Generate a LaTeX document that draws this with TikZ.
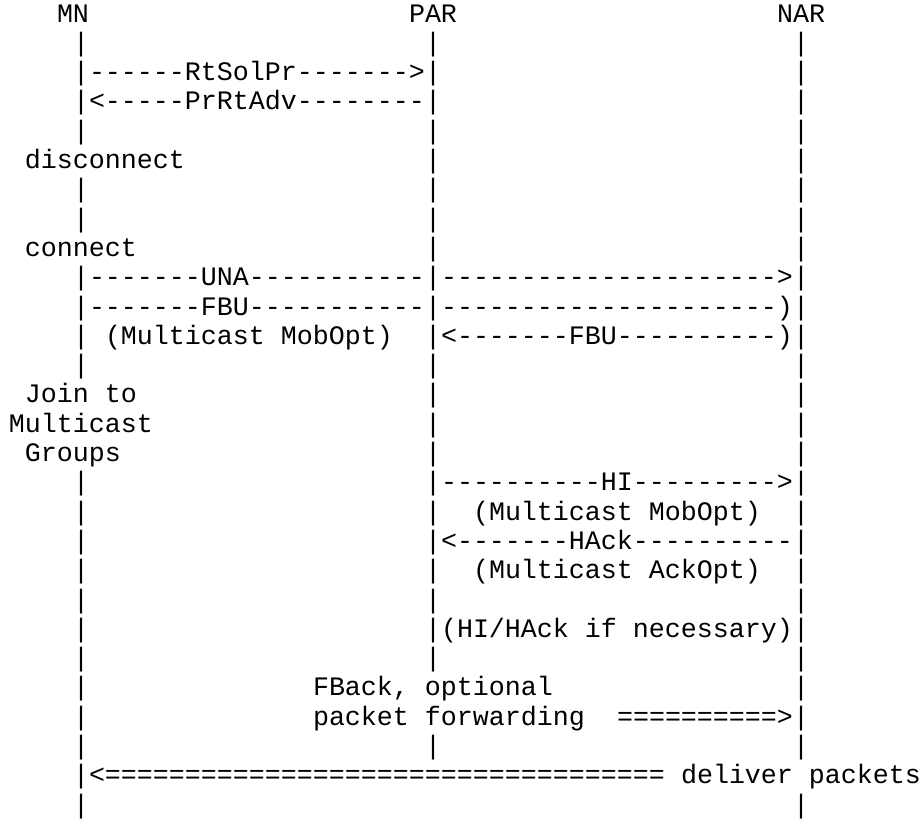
\documentclass[tikz,border=0pt]{standalone}
\usepackage{fontspec}
\setmonofont{Liberation Mono}
\usepackage{tikz}
\tikzstyle{asciitext}=[anchor=base west, inner sep=0pt, outer sep=0pt, font=\ttfamily\fontsize{13.33pt}{14.65pt}\selectfont]
\newcommand{\asciinode}[3]{
	\node[asciitext] (#1) at (#2) {#3};}

\begin{document}
\begin{tikzpicture}[x=8pt, y=-14.65pt]
	\useasboundingbox[fill=white] (-4.5pt,-3.65pt) rectangle (457.5pt,-414.15pt);

	% hosts
	\asciinode{mn}{3,1}{MN}
	\asciinode{par}{25,1}{PAR}
	\asciinode{nar}{48,1}{NAR}

	% lifelines
	\foreach \l in {2,3,4,5,7,8,10,11,12,13,17,18,19,20,21,22,23,24,25,26,27,28}
		\asciinode{mn\l}{4,\l}{|};
	\foreach \l in {2,...,23,26}
		\asciinode{par\l}{26,\l}{|};
	\foreach \l in {2,...,26,28}
		\asciinode{nar\l}{49,\l}{|};

	% MN <-> PAR
	\asciinode{rtsolpr}{5,3}{------RtSolPr------->}
	\asciinode{prrtadv}{5,4}{<-----PrRtAdv--------}
	\asciinode{disconnect}{1,6}{disconnect}
	\asciinode{connect}{1,9}{connect}
	\asciinode{una}{5,10}{-------UNA-----------}
	\asciinode{unanar}{27,10}{--------------------->}
	\asciinode{fbu}{5,11}{-------FBU-----------}
	\asciinode{fbunar}{27,11}{---------------------)}
	\asciinode{fbuopt}{6,12}{(Multicast MobOpt)}
	\asciinode{fbupar}{27,12}{<-------FBU----------)}

	\asciinode{join}{1,14}{Join to}
	\asciinode{multicast}{0,15}{Multicast}
	\asciinode{groups}{1,16}{Groups}

	% PAR <-> NAR
	\asciinode{hi}{27,17}{----------HI--------->}
	\asciinode{hiopt}{29,18}{(Multicast MobOpt)}
	\asciinode{hack}{27,19}{<-------HAck----------}
	\asciinode{hackopt}{29,20}{(Multicast AckOpt)}
	\asciinode{hihack}{27,22}{(HI/HAck if necessary)}

	\asciinode{fback}{19,24}{FBack, optional}
	\asciinode{pktfwd}{19,25}{packet forwarding}
	\asciinode{fwdarrow}{38,25}{==========>}
	\asciinode{deliverarrow}{5,27}{<===================================}
	\asciinode{deliver}{42,27}{deliver packets}
\end{tikzpicture}
\end{document}
